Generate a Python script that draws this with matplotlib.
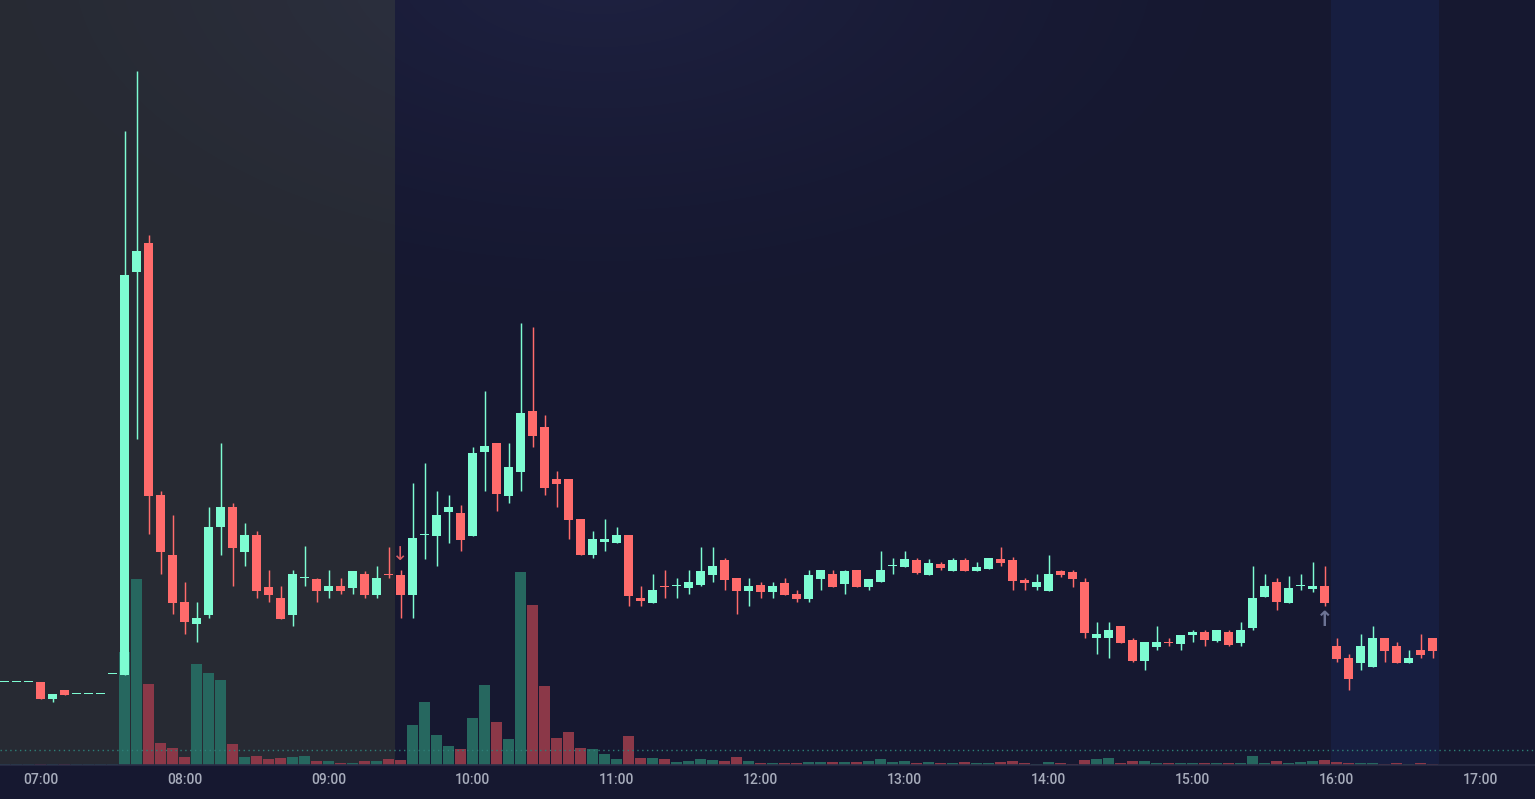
import numpy as np
import pandas as pd
import matplotlib
matplotlib.use("Agg")
import matplotlib.pyplot as plt

# ==========================================
# 1. 5-minute bars, 06:45 -> 16:40
# ==========================================
open_ = [2.18, 2.18, 2.18, 2.18, 2.01, 2.10,
         2.06, 2.06, 2.06, 2.26,
         2.25, 6.28, 6.57, 4.05, 3.45, 2.98, 2.76, 2.85, 3.73, 3.93,
         3.48, 3.65, 3.13, 3.02, 2.85, 3.22, 3.21, 3.09, 3.14, 3.12,
         3.26, 3.05, 3.26, 3.25, 3.05, 3.65, 3.64, 3.88, 3.87, 3.64,
         4.48, 4.57, 4.04, 4.28, 4.89, 4.73, 4.21, 4.21, 3.81, 3.45,
         3.58, 3.57, 3.65, 3.02, 2.97, 3.14, 3.14, 3.12, 3.15, 3.25,
         3.40, 3.22, 3.09, 3.15, 3.08, 3.17, 3.06, 3.01, 3.21, 3.26,
         3.16, 3.30, 3.13, 3.18, 3.34, 3.33, 3.40, 3.25, 3.36, 3.29,
         3.40, 3.29, 3.31, 3.41, 3.40, 3.20, 3.13, 3.09, 3.29, 3.28,
         3.18, 2.62, 2.62, 2.74, 2.60, 2.39, 2.53, 2.58, 2.56, 2.65,
         2.68, 2.59, 2.68, 2.57, 2.72, 3.03, 3.18, 2.97, 3.14, 3.11,
         3.14, 2.54, 2.42, 2.37, 2.33, 2.62, 2.54, 2.37, 2.50, 2.62]
high = [2.18, 2.18, 2.18, 2.18, 2.06, 2.10,
        2.06, 2.06, 2.06, 2.26,
        7.69, 8.29, 6.65, 4.09, 3.85, 3.18, 2.98, 3.93, 4.57, 3.97,
        3.77, 3.69, 3.30, 3.14, 3.30, 3.54, 3.22, 3.30, 3.22, 3.29,
        3.29, 3.34, 3.53, 3.30, 4.17, 4.37, 4.09, 4.05, 3.95, 4.53,
        5.09, 4.57, 4.57, 5.77, 5.73, 4.85, 4.29, 4.21, 3.81, 3.69,
        3.81, 3.73, 3.65, 3.14, 3.26, 3.30, 3.22, 3.30, 3.53, 3.53,
        3.42, 3.22, 3.22, 3.18, 3.18, 3.22, 3.10, 3.30, 3.30, 3.30,
        3.30, 3.30, 3.21, 3.49, 3.42, 3.49, 3.42, 3.41, 3.38, 3.42,
        3.42, 3.38, 3.42, 3.53, 3.43, 3.22, 3.26, 3.45, 3.30, 3.30,
        3.22, 2.78, 2.78, 2.74, 2.62, 2.58, 2.74, 2.62, 2.65, 2.70,
        2.70, 2.70, 2.70, 2.78, 3.34, 3.26, 3.22, 3.24, 3.26, 3.38,
        3.34, 2.62, 2.46, 2.66, 2.74, 2.62, 2.58, 2.50, 2.66, 2.62]
low = [2.18, 2.18, 2.18, 2.01, 1.98, 2.05,
       2.06, 2.06, 2.06, 2.26,
       2.25, 4.61, 3.66, 3.26, 2.86, 2.66, 2.58, 2.82, 3.45, 3.14,
       3.34, 3.02, 2.98, 2.81, 2.74, 3.14, 2.98, 3.02, 3.06, 3.06,
       3.02, 3.02, 3.22, 2.82, 2.82, 3.41, 3.34, 3.57, 3.49, 3.64,
       4.09, 3.89, 3.97, 4.09, 4.53, 4.05, 3.93, 3.61, 3.45, 3.42,
       3.49, 3.57, 2.94, 2.94, 2.97, 3.02, 3.02, 3.06, 3.14, 3.18,
       3.10, 2.86, 2.94, 3.02, 3.02, 3.05, 2.98, 2.98, 3.10, 3.13,
       3.06, 3.13, 3.10, 3.18, 3.26, 3.33, 3.26, 3.25, 3.30, 3.29,
       3.29, 3.29, 3.31, 3.34, 3.10, 3.10, 3.10, 3.09, 3.23, 3.13,
       2.62, 2.46, 2.42, 2.57, 2.38, 2.30, 2.50, 2.54, 2.50, 2.58,
       2.54, 2.58, 2.54, 2.54, 2.70, 3.03, 2.90, 2.97, 3.10, 3.08,
       2.94, 2.38, 2.10, 2.30, 2.33, 2.38, 2.37, 2.37, 2.42, 2.42]
close = [2.18, 2.18, 2.18, 2.01, 2.06, 2.05,
         2.06, 2.06, 2.06, 2.26,
         6.25, 6.49, 4.04, 3.48, 2.97, 2.78, 2.82, 3.73, 3.93, 3.52,
         3.65, 3.09, 3.05, 2.81, 3.26, 3.22, 3.09, 3.14, 3.09, 3.29,
         3.05, 3.22, 3.25, 3.05, 3.62, 3.65, 3.85, 3.93, 3.60, 4.47,
         4.54, 4.06, 4.33, 4.87, 4.64, 4.12, 4.16, 3.80, 3.45, 3.61,
         3.61, 3.65, 3.04, 2.99, 3.10, 3.13, 3.14, 3.18, 3.29, 3.34,
         3.20, 3.09, 3.14, 3.08, 3.14, 3.05, 3.01, 3.25, 3.30, 3.13,
         3.29, 3.13, 3.21, 3.30, 3.34, 3.41, 3.27, 3.37, 3.32, 3.40,
         3.29, 3.33, 3.42, 3.37, 3.19, 3.17, 3.18, 3.26, 3.25, 3.21,
         2.67, 2.66, 2.70, 2.57, 2.39, 2.58, 2.58, 2.57, 2.65, 2.68,
         2.60, 2.70, 2.55, 2.70, 3.02, 3.14, 2.98, 3.12, 3.14, 3.14,
         2.97, 2.41, 2.21, 2.54, 2.62, 2.49, 2.37, 2.42, 2.45, 2.49]
# volume in thousands of shares
volume = [5, 5, 5, 5, 5, 5, 5, 5, 5, 5,
          565, 930, 405, 110, 85, 40, 505, 460, 425, 105,
          40, 45, 30, 35, 40, 45, 20, 20, 10, 10,
          20, 20, 30, 25, 200, 315, 150, 95, 80, 235,
          400, 215, 130, 965, 800, 395, 135, 165, 85, 80,
          55, 30, 145, 35, 35, 30, 15, 20, 30, 25,
          20, 40, 20, 10, 10, 10, 10, 15, 15, 15,
          15, 15, 20, 30, 15, 20, 10, 15, 10, 10,
          15, 10, 10, 15, 20, 10, 5, 15, 10, 5,
          25, 30, 35, 10, 20, 20, 10, 10, 10, 10,
          10, 10, 10, 10, 45, 10, 20, 10, 15, 20,
          25, 15, 10, 10, 10, 5, 10, 5, 10, 5]
avg_volume = 75

# event markers (time, price)
marker_down = ("09:30", 3.46)
marker_up = ("15:55", 2.80)

tick_labels = ["07:00", "08:00", "09:00", "10:00", "11:00", "12:00",
               "13:00", "14:00", "15:00", "16:00", "17:00"]

times = pd.date_range("2024-01-02 06:45", periods=len(open_), freq="5min")
t = np.array(times.hour * 60 + times.minute, dtype=float)

o = np.array(open_); h = np.array(high); l = np.array(low); c = np.array(close)
up = c >= o

# ==========================================
# 2. colours / layout
# ==========================================
BG = "#161830"
PRE_BG = "#272a33"
POST_BG = "#171e40"
GREEN = "#7dfcd2"
RED = "#ff6b6b"
VGREEN = "#26675f"
VRED = "#8b3848"

W, H = 1535, 799
fig = plt.figure(figsize=(W / 100, H / 100), dpi=100, facecolor=BG)
pos = [0, 34 / H, 1, 765 / H]
ax_v = fig.add_axes(pos)
ax = fig.add_axes(pos, sharex=ax_v)
ax.patch.set_alpha(0)
ax_v.set_facecolor(BG)

xmin, xmax = 403.125, 1042.7
ax_v.set_xlim(xmin, xmax)
ax.set_ylim(1.35, 9.0)
ax_v.set_ylim(0, 3825)

# session shading
ax_v.axvspan(xmin, 567.5, color=PRE_BG, lw=0, zorder=0)
ax_v.axvspan(957.5, 1002.5, color=POST_BG, lw=0, zorder=0)

# soft glow near the top
gx, gy = np.meshgrid(np.linspace(0, W, 400), np.linspace(0, 765, 200))
d = np.sqrt(((gx - 600) / 700) ** 2 + ((gy + 40) / 380) ** 2)
alpha = 0.14 * np.clip(1 - d, 0, 1) ** 1.4
glow = np.zeros(gx.shape + (4,))
glow[..., 0], glow[..., 1], glow[..., 2] = 0.33, 0.38, 0.70
glow[..., 3] = alpha
ax_v.imshow(glow, extent=(xmin, xmax, 0, 3825), origin="upper",
            aspect="auto", zorder=0.5, interpolation="bilinear")

# ==========================================
# 3. volume + candles
# ==========================================
vcol = np.where(up, VGREEN, VRED)
ax_v.bar(t, volume, width=4.6, color=vcol, lw=0, zorder=1)
ax_v.axhline(avg_volume, color="#2e7f77", lw=1.0, ls=(0, (1, 2.5)), zorder=1.5)

ccol = np.where(up, GREEN, RED)
ax.vlines(t, l, h, colors=ccol, lw=1.05, zorder=2)
body = np.maximum(np.abs(c - o), 0.013)
ax.bar(t, body, bottom=np.minimum(o, c), width=4.0, color=ccol, lw=0, zorder=3)

def to_min(s):
    hh, mm = s.split(":")
    return int(hh) * 60 + int(mm)

ax.text(to_min(marker_down[0]), marker_down[1], "\u2193", color=RED, alpha=0.85,
        fontsize=14, ha="center", va="center", family="DejaVu Sans", zorder=4)
ax.text(to_min(marker_up[0]), marker_up[1], "\u2191", color="#6c7394",
        fontsize=15, ha="center", va="center", family="DejaVu Sans",
        fontweight="bold", zorder=4)

# ==========================================
# 4. axes styling
# ==========================================
ticks = [to_min(s) for s in tick_labels]
ax.set_xticks(ticks)
ax.set_xticklabels(tick_labels)
ax.tick_params(axis="x", length=0, pad=6, labelsize=10, labelcolor="#a7acbb")
for lab in ax.get_xticklabels():
    lab.set_family(["Roboto", "DejaVu Sans"])
    lab.set_fontweight("medium")
ax.set_yticks([])
ax_v.set_yticks([])
ax_v.tick_params(axis="x", length=0, labelbottom=False)
for a in (ax, ax_v):
    for s in a.spines.values():
        s.set_visible(False)
ax_v.spines["bottom"].set_visible(True)
ax_v.spines["bottom"].set_color("#2a2d45")
ax_v.spines["bottom"].set_linewidth(1.2)

fig.savefig("out.png", dpi=100, facecolor=BG)
